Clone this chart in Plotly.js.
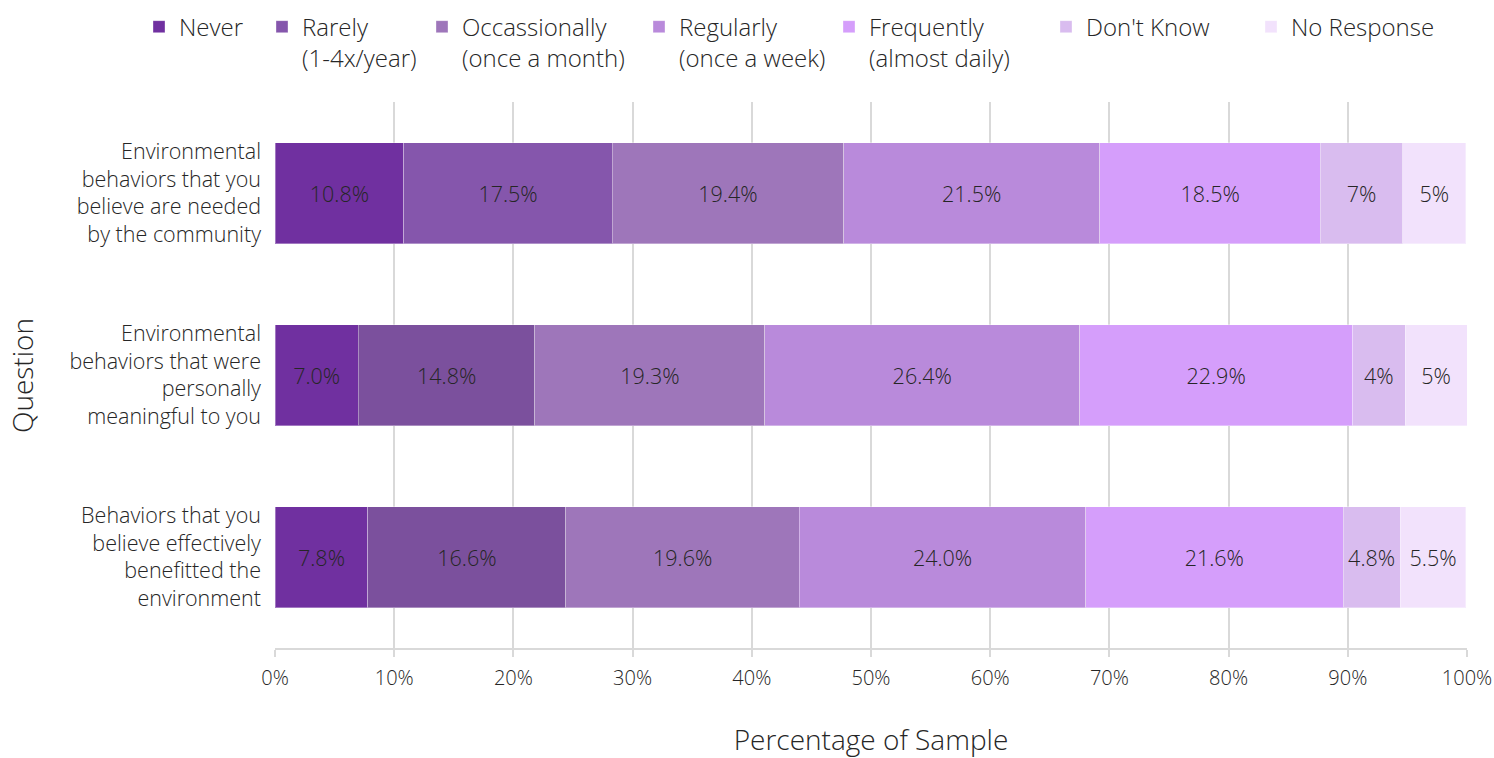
<!DOCTYPE html>
<html>
<head>
<meta charset="utf-8">
<script src="https://cdn.plot.ly/plotly-3.0.1.min.js"></script>
<style>html,body{margin:0;padding:0;background:#fff;}#chart{width:1494px;height:758px;}</style>
</head>
<body>
<div id="chart"></div>
<script>
var categories = [
  "Environmental<br>behaviors that you<br>believe are needed<br>by the community",
  "Environmental<br>behaviors that were<br>personally<br>meaningful to you",
  "Behaviors that you<br>believe effectively<br>benefitted the<br>environment"
];
var seriesNames = [
  "Never",
  "Rarely<br>(1-4x/year)",
  "Occassionally<br>(once a month)",
  "Regularly<br>(once a week)",
  "Frequently<br>(almost daily)",
  "Don't Know",
  "No Response"
];
var never = [10.8, 7.0, 7.8];
var rarely = [17.5, 14.8, 16.6];
var occasionally = [19.4, 19.3, 19.6];
var regularly = [21.5, 26.4, 24.0];
var frequently = [18.5, 22.9, 21.6];
var dontKnow = [6.9, 4.4, 4.8];
var noResponse = [5.3, 5.2, 5.5];
var dontKnowLabels = ["7%", "4%", "4.8%"];
var noResponseLabels = ["5%", "5%", "5.5%"];
var xTickValues = [0, 10, 20, 30, 40, 50, 60, 70, 80, 90, 100];
var xTickLabels = ["0%", "10%", "20%", "30%", "40%", "50%", "60%", "70%", "80%", "90%", "100%"];
var yTitle = "Question";
var xTitle = "Percentage of Sample";

var FONT = "'Open Sans', sans-serif";
var TXT = "#262626";
var colors = [
  "#7030A0",
  ["#8556AC", "#7B509D", "#7B509D"],
  "#9E76BA",
  "#B98ADB",
  "#D59EFB",
  "#D9BCEF",
  "#F2E2FC"
];
// left edge (px) of each legend entry's text in the page
var legendTextLeft = [179, 302, 462, 679, 869, 1086, 1291];
var seriesValues = [never, rarely, occasionally, regularly, frequently, dontKnow, noResponse];

function fmt(v) { return v.toFixed(1) + "%"; }
function legendId(i) { return i === 0 ? "legend" : "legend" + (i + 1); }

var traces = seriesValues.map(function (vals, i) {
  var labels;
  if (i === 5) labels = dontKnowLabels;
  else if (i === 6) labels = noResponseLabels;
  else labels = vals.map(fmt);
  return {
    type: "bar",
    orientation: "h",
    name: seriesNames[i],
    legend: legendId(i),
    y: categories,
    x: vals,
    text: labels,
    textposition: "inside",
    insidetextanchor: "middle",
    textangle: 0,
    constraintext: "none",
    textfont: {family: FONT, size: 21.5, color: TXT, weight: 300},
    marker: {color: colors[i], line: {color: "rgba(255,255,255,0.35)", width: 1}},
    hoverinfo: "x+name"
  };
});

var layout = {
  width: 1494,
  height: 758,
  barmode: "stack",
  bargap: 0.445,
  paper_bgcolor: "#fff",
  plot_bgcolor: "#fff",
  font: {family: FONT, color: TXT, weight: 300},
  margin: {l: 275, r: 27, t: 102, b: 110, autoexpand: false},
  showlegend: true,
  xaxis: {
    range: [0, 100],
    tickmode: "array",
    tickvals: xTickValues,
    ticktext: xTickLabels,
    showgrid: true,
    gridcolor: "#D9D9D9",
    gridwidth: 2,
    zeroline: false,
    showline: true,
    linecolor: "#D9D9D9",
    linewidth: 2,
    ticks: "outside",
    ticklen: 7,
    tickwidth: 2,
    tickcolor: "#D9D9D9",
    ticklabelstandoff: 4,
    tickfont: {family: FONT, size: 20, color: TXT, weight: 300},
    title: {text: xTitle, font: {family: FONT, size: 28, color: TXT, weight: 300}, standoff: 44},
    fixedrange: true
  },
  yaxis: {
    categoryorder: "array",
    categoryarray: categories,
    autorange: "reversed",
    showgrid: false,
    zeroline: false,
    showline: false,
    ticks: "",
    ticklabelstandoff: 13,
    tickfont: {family: FONT, size: 21.5, color: TXT, weight: 300},
    fixedrange: true
  },
  annotations: [{
    text: yTitle,
    xref: "paper", yref: "paper",
    x: (22 - 275) / 1192, y: 0.5,
    xanchor: "center", yanchor: "middle",
    textangle: -90,
    showarrow: false,
    font: {family: FONT, size: 28, color: TXT, weight: 300}
  }]
};

legendTextLeft.forEach(function (px, i) {
  layout[legendId(i)] = {
    orientation: "v",
    xref: "container",
    yref: "container",
    x: (px - 40) / 1494,
    xanchor: "left",
    y: 0.994,
    yanchor: "top",
    valign: "top",
    bgcolor: "rgba(0,0,0,0)",
    font: {family: FONT, size: 24, color: TXT, weight: 300},
    itemwidth: 30
  };
});

Plotly.newPlot("chart", traces, layout, {displayModeBar: false, responsive: false});
</script>
</body>
</html>
